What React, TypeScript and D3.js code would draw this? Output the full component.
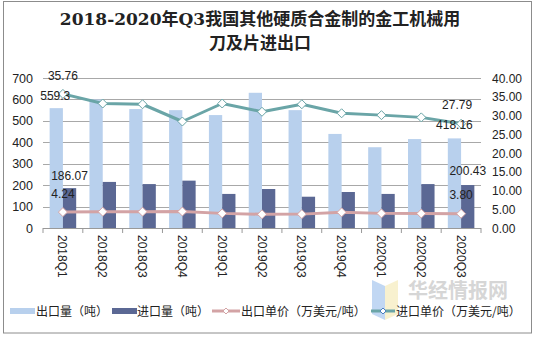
import React from "react";
import * as d3 from "d3";

const categories = ["2018Q1","2018Q2","2018Q3","2018Q4","2019Q1","2019Q2","2019Q3","2019Q4","2020Q1","2020Q2","2020Q3"];
const exportQty = [559.3, 600, 555, 550, 527, 631, 550, 439, 377, 415, 418.16];
const importQty = [186.07, 215, 205, 221, 159, 182, 146, 168, 159, 205, 200.43];
const exportPrice = [4.24, 4.35, 4.35, 4.4, 3.9, 3.65, 3.7, 4.17, 3.9, 3.85, 3.8];
const importPrice = [35.76, 33.2, 33.0, 28.4, 33.2, 31.0, 33.0, 30.6, 30.1, 29.5, 27.79];
const leftTicks = [0, 100, 200, 300, 400, 500, 600, 700];
const rightTicks = [0, 5, 10, 15, 20, 25, 30, 35, 40];
const legendLabels = ["出口量（吨）", "进口量（吨）", "出口单价（万美元/吨）", "进口单价（万美元/吨）"];

const C_EXP = "#b8d0ed";
const C_IMP = "#5b6894";
const C_EP = "#d3a3a5";
const C_IP = "#6aa5a7";
const GRID = "#a8a8a8";
const FONT = "'Liberation Sans', Arial, 'Noto Sans CJK SC', sans-serif";
const CJK = "'Noto Sans CJK SC', 'Liberation Sans', sans-serif";

export default function App() {
  const W = 535, H = 337;
  const x = d3.scaleBand<string>().domain(categories).range([43, 481]).padding(0);
  const yL = d3.scaleLinear().domain([0, 700]).range([228, 78]);
  const yR = d3.scaleLinear().domain([0, 40]).range([228, 78]);
  const bw = x.bandwidth() / 3;
  const cx = (c: string) => (x(c) as number) + x.bandwidth() / 2;

  const lineR = d3.line<number>().x((_, i) => cx(categories[i])).y((v) => yR(v));
  const diamond = (px: number, py: number, s = 4.5) =>
    `M${px},${py - s}L${px + s},${py}L${px},${py + s}L${px - s},${py}Z`;

  const last = categories.length - 1;
  const lc = categories[last];
  const fc = categories[0];

  return (
    <svg width={W} height={H} style={{ position: "absolute", left: 0, top: 0, background: "#fff" }}>
      <rect x={3.5} y={1.5} width={528} height={331.5} fill="#fff" stroke="#8c8c8c" strokeWidth={1} />
      {/* title */}
      <text x={260} y={25} textAnchor="middle" fontSize={17} fontWeight="bold"
        fontFamily="'DejaVu Serif', 'Noto Sans CJK SC', serif" fill="#222">2018-2020年Q3我国其他硬质合金制的金工机械用</text>
      <text x={260} y={49} textAnchor="middle" fontSize={17} fontWeight="bold"
        fontFamily="'DejaVu Serif', 'Noto Sans CJK SC', serif" fill="#222">刀及片进出口</text>

      {/* gridlines */}
      {leftTicks.map((t) => (
        <line key={t} x1={43} x2={481} y1={Math.round(yL(t)) + 0.5} y2={Math.round(yL(t)) + 0.5}
          stroke={t === 0 ? "#999" : GRID} strokeWidth={1} />
      ))}
      {/* x ticks */}
      {categories.concat(["end"]).map((c, i) => {
        const xx = 43 + i * x.bandwidth();
        return <line key={c} x1={xx} x2={xx} y1={228} y2={233} stroke="#999" />;
      })}
      {/* left axis labels */}
      {leftTicks.map((t) => (
        <text key={t} x={33} y={yL(t) + 4.5} textAnchor="end" fontSize={12.5} fontFamily={FONT} fill="#222">{t}</text>
      ))}
      {rightTicks.map((t) => (
        <text key={t} x={492} y={yR(t) + 4.5} textAnchor="start" fontSize={12} fontFamily={FONT} fill="#222">{t.toFixed(2)}</text>
      ))}

      {/* bars */}
      {categories.map((c, i) => (
        <g key={c}>
          <rect x={cx(c) - bw} y={yL(exportQty[i])} width={bw} height={228 - yL(exportQty[i])} fill={C_EXP} />
          <rect x={cx(c)} y={yL(importQty[i])} width={bw} height={228 - yL(importQty[i])} fill={C_IMP} />
        </g>
      ))}

      {/* lines */}
      <path d={lineR(exportPrice) || ""} fill="none" stroke={C_EP} strokeWidth={3} strokeLinejoin="round" />
      <path d={lineR(importPrice) || ""} fill="none" stroke={C_IP} strokeWidth={3} strokeLinejoin="round" />
      {exportPrice.map((v, i) => (
        <path key={"e" + i} d={diamond(cx(categories[i]), yR(v))} fill="#fff" stroke={C_EP} strokeWidth={1} />
      ))}
      {importPrice.map((v, i) => (
        <path key={"i" + i} d={diamond(cx(categories[i]), yR(v))} fill="#fff" stroke={C_IP} strokeWidth={1} />
      ))}

      {/* data labels */}
      <g fontSize={12} fontFamily={FONT} fill="#222" textAnchor="middle">
        <text x={cx(fc)} y={yR(importPrice[0]) - 14}>{importPrice[0].toFixed(2)}</text>
        <text x={cx(fc) - bw / 2 - 1} y={yL(exportQty[0]) - 8}>{exportQty[0]}</text>
        <text x={cx(fc) + bw / 2} y={yL(importQty[0]) - 8}>{importQty[0].toFixed(2)}</text>
        <text x={cx(fc)} y={yR(exportPrice[0]) - 14}>{exportPrice[0].toFixed(2)}</text>
        <text x={cx(lc) - 4} y={yR(importPrice[last]) - 15}>{importPrice[last].toFixed(2)}</text>
        <text x={cx(lc) - bw / 2} y={yL(exportQty[last]) - 9}>{exportQty[last].toFixed(2)}</text>
        <text x={cx(lc) + bw / 2} y={yL(importQty[last]) - 10}>{importQty[last].toFixed(2)}</text>
        <text x={cx(lc)} y={yR(exportPrice[last]) - 15}>{exportPrice[last].toFixed(2)}</text>
      </g>

      {/* x labels */}
      {categories.map((c) => (
        <text key={c} transform={`translate(${cx(c) - 4.5},235) rotate(90)`} fontSize={12} fontFamily={FONT} fill="#222">{c}</text>
      ))}

      {/* watermark */}
      <g opacity={0.55}>
        <path d="M372,280 L385,286 L385,320 L372,314 Z" fill="#8fb8ea" />
        <path d="M385,286 L398,280 L398,314 L385,320 Z" fill="#f4e7a8" />
        <text x={408} y={298} fontSize={20} fontWeight="bold" fontFamily={CJK} fill="#b5b5b5">华经情报网</text>
      </g>

      {/* legend */}
      <g fontSize={12} fontFamily={CJK} fill="#222">
        <rect x={10} y={308} width={25} height={6} fill={C_EXP} />
        <text x={36} y={316}>{legendLabels[0]}</text>
        <rect x={112} y={308} width={25} height={6} fill={C_IMP} />
        <text x={137} y={316}>{legendLabels[1]}</text>
        <line x1={212} x2={240} y1={311} y2={311} stroke={C_EP} strokeWidth={3} />
        <path d={diamond(226, 311, 3)} fill="#fff" stroke={C_EP} />
        <text x={241} y={316}>{legendLabels[2]}</text>
        <line x1={371} x2={395} y1={311} y2={311} stroke={C_IP} strokeWidth={3} />
        <path d={diamond(383, 311, 3)} fill="#fff" stroke="#4a7fc0" />
        <text x={396} y={316}>{legendLabels[3]}</text>
      </g>
    </svg>
  );
}
